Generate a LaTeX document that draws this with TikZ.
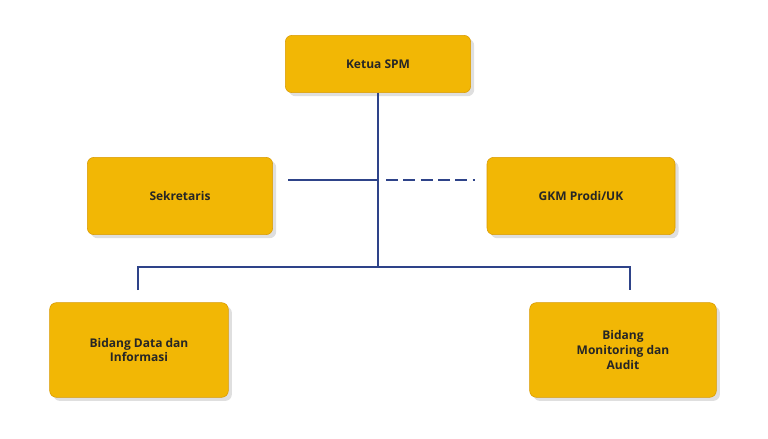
\documentclass[tikz,border=0pt]{standalone}
\usepackage{fontspec}
\setmainfont{Open Sans}
\usetikzlibrary{shadows}
\definecolor{boxgold}{HTML}{F2B705}
\definecolor{boxedge}{HTML}{D99A00}
\definecolor{linkblue}{HTML}{2E4389}
\begin{document}
\begin{tikzpicture}[x=0.75pt,y=-0.75pt]
    \tikzstyle{unit}=[draw=boxedge,fill=boxgold,rounded corners=5pt,align=center,
        font=\bfseries\small,text=black!85,drop shadow={opacity=0.25}]
    \tikzstyle{link}=[draw=linkblue,line width=2.2pt]
    \tikzstyle{dlink}=[link,dash pattern=on 9pt off 4pt]

    \useasboundingbox (0,0) rectangle (768,439);

    \node[unit,minimum width=139pt,minimum height=43pt] (ketua) at (378,64) {Ketua SPM};
    \node[unit,minimum width=139pt,minimum height=58pt] (sek) at (180,196) {Sekretaris};
    \node[unit,minimum width=141pt,minimum height=58pt] (gkm) at (581,196) {GKM Prodi/UK};
    \node[unit,minimum width=134pt,minimum height=71pt] (data) at (139,350) {Bidang Data dan\\Informasi};
    \node[unit,minimum width=140pt,minimum height=71pt] (mon) at (623,350) {Bidang\\Monitoring dan\\Audit};

    \coordinate (hub) at (378,267);
    \coordinate (mid) at (378,180);
    \coordinate (sekend) at (288,180);
    \coordinate (gkmend) at (475,180);
    \coordinate (left) at (138,267);
    \coordinate (right) at (630,267);
    \coordinate (ldown) at (138,290);
    \coordinate (rdown) at (630,290);

    \draw[link] (ketua.south) -- (hub);
    \draw[link] (sekend) -- (mid);
    \draw[dlink] ([xshift=6pt]mid) -- (gkmend);
    \draw[link] (ldown) -- (left) -- (right) -- (rdown);
\end{tikzpicture}
\end{document}
